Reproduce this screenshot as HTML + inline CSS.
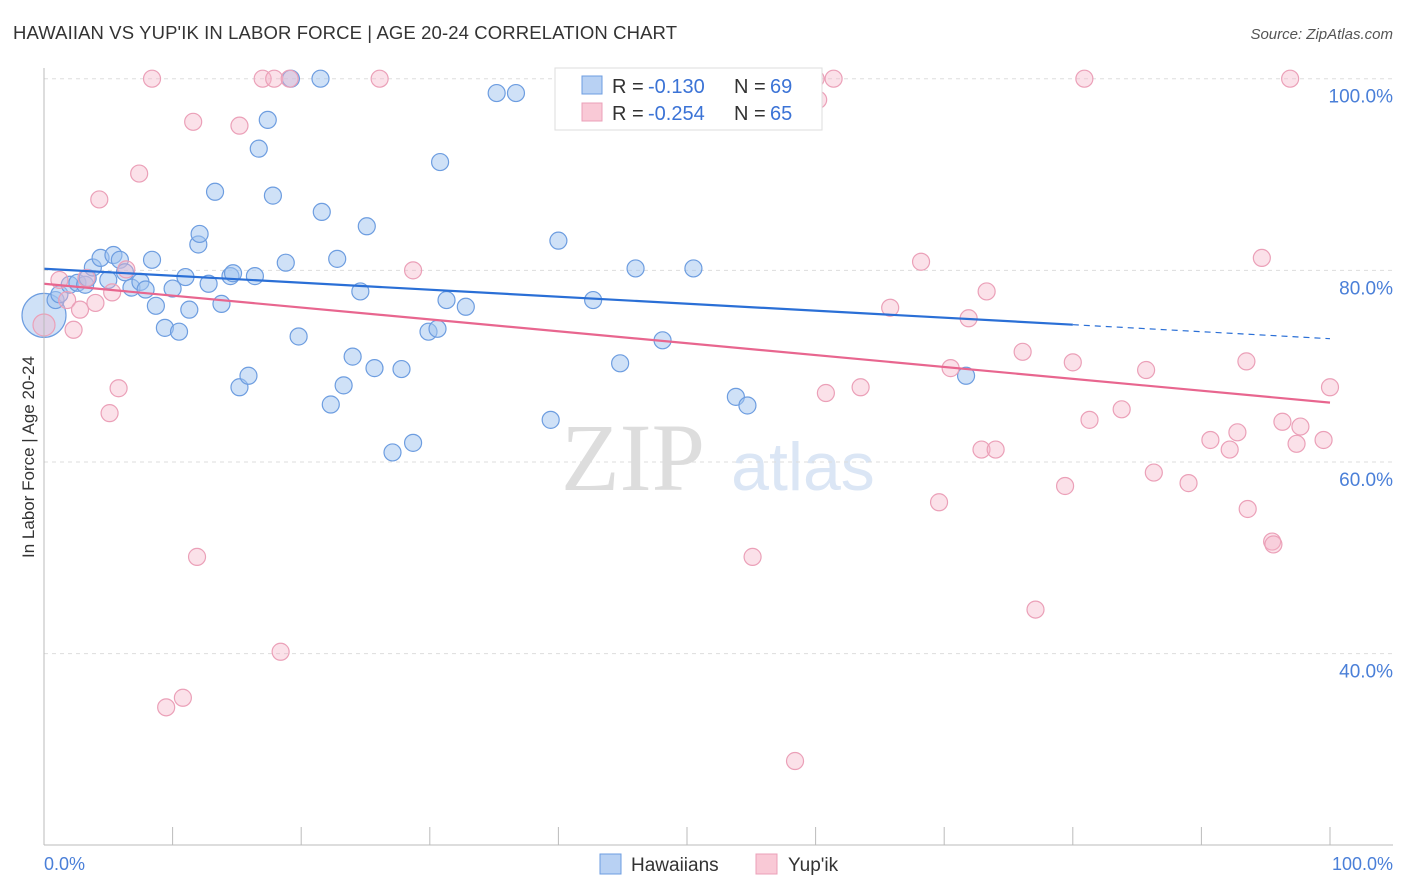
<!DOCTYPE html>
<html><head><meta charset="utf-8"><style>
body{margin:0;background:#fff;font-family:"Liberation Sans",sans-serif;}
#wrap{position:relative;width:1406px;height:892px;overflow:hidden}
</style></head><body><div id="wrap">
<svg id="svg" width="1406" height="892">
<text x="13" y="39" font-size="18.5" fill="#333" textLength="664">HAWAIIAN VS YUP'IK IN LABOR FORCE | AGE 20-24 CORRELATION CHART</text>
<text x="1393" y="39" font-size="15" fill="#555" font-style="italic" text-anchor="end">Source: ZipAtlas.com</text>
<text x="633" y="490" font-size="96" fill="#ddd" font-family="Liberation Serif" text-anchor="middle">ZIP</text>
<text x="803" y="490" font-size="68" fill="#dbe6f5" text-anchor="middle">atlas</text>
<g id="grid"></g><g id="pts"></g><g id="trend"></g>
<line x1="44" y1="68" x2="44" y2="845" stroke="#bbb"/>
<line x1="44" y1="845" x2="1393" y2="845" stroke="#bbb"/>
<text x="34" y="457" font-size="17" fill="#333" text-anchor="middle" transform="rotate(-90 34 457)">In Labor Force | Age 20-24</text>
<text x="44" y="870" font-size="18" fill="#4a7fd8">0.0%</text>
<text x="1393" y="870" font-size="18" fill="#4a7fd8" text-anchor="end">100.0%</text>
<g>
<rect x="555" y="68" width="267" height="62" fill="#fff" stroke="#ddd"/>
<rect x="582" y="76" width="20" height="18" fill="#b8d1f3" stroke="#6d9de0"/>
<rect x="582" y="103" width="20" height="18" fill="#f9c9d6" stroke="#eba0b8"/>
<text x="612" y="93" font-size="20" fill="#333">R =</text>
<text x="648" y="93" font-size="20" fill="#3b73d6">-0.130</text>
<text x="734" y="93" font-size="20" fill="#333">N =</text>
<text x="770" y="93" font-size="20" fill="#3b73d6">69</text>
<text x="612" y="120" font-size="20" fill="#333">R =</text>
<text x="648" y="120" font-size="20" fill="#3b73d6">-0.254</text>
<text x="734" y="120" font-size="20" fill="#333">N =</text>
<text x="770" y="120" font-size="20" fill="#3b73d6">65</text>
</g>
<g>
<rect x="600" y="854" width="21" height="20" fill="#b8d1f3" stroke="#6d9de0"/>
<text x="631" y="871" font-size="19" fill="#333">Hawaiians</text>
<rect x="756" y="854" width="21" height="20" fill="#f9c9d6" stroke="#eba0b8"/>
<text x="788" y="871" font-size="19" fill="#333">Yup'ik</text>
</g>
</svg></div>
<script>
const yTicks=[100,80,60,40];
const xTickCount=10;
const blueX=[0.9,1.2,2.0,2.6,3.2,3.4,3.8,4.4,5.0,5.4,5.9,6.3,6.8,7.5,7.9,8.4,8.7,9.4,10.0,10.5,11.0,11.3,12.0,12.1,12.8,13.3,13.8,14.5,14.7,15.2,15.9,16.4,16.7,17.4,17.8,18.8,19.2,19.8,21.5,21.6,22.3,22.8,23.3,24.0,24.6,25.1,25.7,27.1,27.8,28.7,29.9,30.6,30.8,31.3,32.8,35.2,36.7,39.4,40.0,42.7,44.8,46.0,48.1,50.5,53.8,54.7,71.7];
const blueY=[76.9,77.5,78.5,78.7,78.5,79.2,80.3,81.3,79.0,81.6,81.1,79.8,78.2,78.8,78.0,81.1,76.3,74.0,78.1,73.6,79.3,75.9,82.7,83.8,78.6,88.2,76.5,79.4,79.7,67.8,69.0,79.4,92.7,95.7,87.8,80.8,100,73.1,100,86.1,66.0,81.2,68.0,71.0,77.8,84.6,69.8,61.0,69.7,62.0,73.6,73.9,91.3,76.9,76.2,98.5,98.5,64.4,83.1,76.9,70.3,80.2,72.7,80.2,66.8,65.9,69.0];
const pinkX=[1.2,1.8,2.3,2.8,3.3,4.0,4.3,5.1,5.3,5.8,6.4,7.4,8.4,9.5,10.8,11.6,11.9,15.2,17.0,17.9,18.4,19.1,26.1,28.7,55.1,58.4,60.0,60.2,60.8,61.4,63.5,65.8,68.2,69.6,70.5,71.9,72.9,73.3,74.0,76.1,77.1,79.4,80.0,80.9,81.3,83.8,85.7,86.3,89.0,90.7,92.2,92.8,93.5,93.6,94.7,95.5,95.6,96.3,96.9,97.4,97.7,99.5,100];
const pinkY=[79.0,76.9,73.8,75.9,79.2,76.6,87.4,65.1,77.7,67.7,80.1,90.1,100,34.4,35.4,95.5,50.1,95.1,100,100,40.2,100,100,80.0,50.1,28.8,100,97.8,67.2,100,67.8,76.1,80.9,55.8,69.8,75.0,61.3,77.8,61.3,71.5,44.6,57.5,70.4,100,64.4,65.5,69.6,58.9,57.8,62.3,61.3,63.1,70.5,55.1,81.3,51.7,51.4,64.2,100,61.9,63.7,62.3,67.8];
const bigBlue=[0,75.3];
const bigPink=[0,74.3];
const blueTrend=[80.17,72.87];
const pinkTrend=[78.6,66.2];
const blueSolidEnd=80;
const NS='http://www.w3.org/2000/svg';
const sx=v=>44+v*12.86;
const sy=v=>1037-v*9.583;
function mk(tag,attrs,parent){const e=document.createElementNS(NS,tag);for(const k in attrs)e.setAttribute(k,attrs[k]);document.getElementById(parent).appendChild(e);return e;}
yTicks.forEach(t=>{
 const l=mk('line',{x1:44,x2:1393,y1:sy(t),y2:sy(t),stroke:'#ddd','stroke-dasharray':'4,4'},'grid');
 
 
 const tx=mk('text',{x:1393,y:sy(t)+24,'font-size':19,fill:'#4a7fd8','text-anchor':'end'},'grid');
 tx.textContent=t.toFixed(1)+'%';
 
 
});
for(let i=1;i<=xTickCount;i++){
 const v=i*100/xTickCount;
 const l=mk('line',{x1:sx(v),x2:sx(v),y1:845,y2:827,stroke:'#bbb'},'grid');
 
 
}
function dot(x,y,r,fill,stroke,name){
 const c=mk('circle',{cx:sx(x),cy:sy(y),r:r,fill:fill,stroke:stroke,'stroke-width':1.2},'pts');
 
 
}
dot(bigBlue[0],bigBlue[1],22,'rgba(160,195,240,0.5)','#6d9de0','hawaiian-point');
blueX.forEach((x,i)=>dot(x,blueY[i],8.5,'rgba(160,195,240,0.5)','#6d9de0','hawaiian-point'));
dot(bigPink[0],bigPink[1],11,'rgba(245,180,200,0.4)','#eba0b8','yupik-point');
pinkX.forEach((x,i)=>dot(x,pinkY[i],8.5,'rgba(245,180,200,0.4)','#eba0b8','yupik-point'));
const bAt=v=>blueTrend[0]+(blueTrend[1]-blueTrend[0])*v/100;
let t1=mk('line',{x1:sx(0),y1:sy(bAt(0)),x2:sx(blueSolidEnd),y2:sy(bAt(blueSolidEnd)),stroke:'#2a6fd6','stroke-width':2.2},'trend');


let t2=mk('line',{x1:sx(blueSolidEnd),y1:sy(bAt(blueSolidEnd)),x2:sx(100),y2:sy(bAt(100)),stroke:'#2a6fd6','stroke-width':1.2,'stroke-dasharray':'6,5'},'trend');


let t3=mk('line',{x1:sx(0),y1:sy(pinkTrend[0]),x2:sx(100),y2:sy(pinkTrend[1]),stroke:'#e8668f','stroke-width':2.2},'trend');


</script></body></html>
